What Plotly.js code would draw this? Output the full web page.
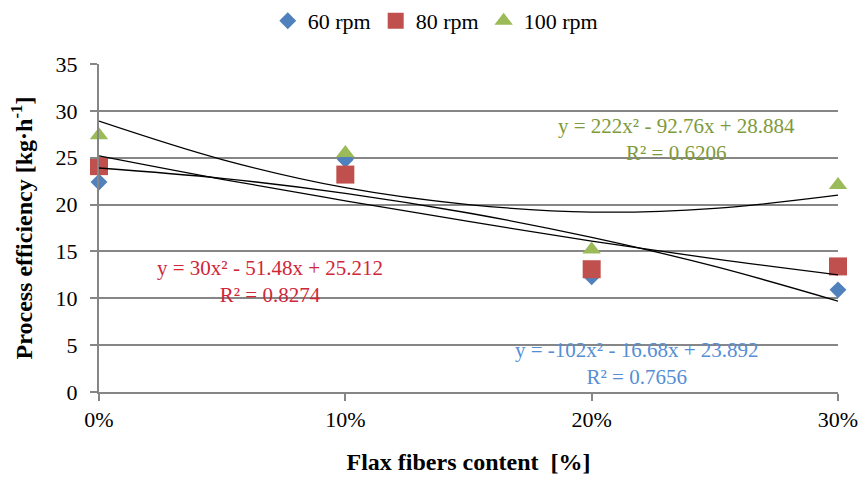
<!DOCTYPE html>
<html><head><meta charset="utf-8">
<script src="https://cdn.plot.ly/plotly-3.0.1.min.js"></script>
<style>html,body{margin:0;padding:0;background:#fff}#chart{width:862px;height:479px}</style>
</head><body><div id="chart"></div>
<script>
// Data
const xCats = [0, 0.1, 0.2, 0.3];
const xTickLabels = ['0%', '10%', '20%', '30%'];
const rpm60 = [22.4, 24.8, 12.3, 10.9];
const rpm80 = [24.1, 23.2, 13.1, 13.4];
const rpm100 = [27.4, 25.5, 15.2, 22.1];
// Trend line values
const trendX = [0, 0.05, 0.1, 0.15, 0.2, 0.25, 0.3];
const trend60 = [23.9, 22.8, 21.2, 19.1, 16.5, 13.4, 9.7];
const trend80 = [25.2, 22.7, 20.4, 18.2, 16.1, 14.2, 12.5];
const trend100 = [28.9, 24.8, 21.8, 20.0, 19.2, 19.6, 21.0];
const seriesNames = ['60 rpm', '80 rpm', '100 rpm'];
const eqTexts = ['y = -102x² - 16.68x + 23.892<br>R² = 0.7656',
                 'y = 30x² - 51.48x + 25.212<br>R² = 0.8274',
                 'y = 222x² - 92.76x + 28.884<br>R² = 0.6206'];

const FONT = '"Liberation Serif", "Times New Roman", serif';
const GRID = '#868686';

const traces = [
  {x: xCats, y: rpm60, name: seriesNames[0], type: 'scatter', mode: 'markers', cliponaxis: false,
   marker: {symbol: 'diamond', size: 13, color: '#4F81BD'}},
  {x: xCats, y: rpm80, name: seriesNames[1], type: 'scatter', mode: 'markers', cliponaxis: false,
   marker: {symbol: 'square', size: 18, color: '#C0504D'}},
  {x: xCats, y: rpm100, name: seriesNames[2], type: 'scatter', mode: 'markers', cliponaxis: false,
   marker: {symbol: 'triangle-up', size: 16, color: '#9BBB59'}},
  {x: trendX, y: trend60, type: 'scatter', mode: 'lines', showlegend: false, hoverinfo: 'skip',
   line: {color: '#000', width: 1.3, shape: 'spline'}},
  {x: trendX, y: trend80, type: 'scatter', mode: 'lines', showlegend: false, hoverinfo: 'skip',
   line: {color: '#000', width: 1.3, shape: 'spline'}},
  {x: trendX, y: trend100, type: 'scatter', mode: 'lines', showlegend: false, hoverinfo: 'skip',
   line: {color: '#000', width: 1.3, shape: 'spline'}}
];

const layout = {
  width: 862, height: 479,
  margin: {l: 99, r: 24, t: 64, b: 87},
  paper_bgcolor: '#fff', plot_bgcolor: '#fff',
  font: {family: FONT, size: 22, color: '#000'},
  showlegend: true,
  legend: {orientation: 'h', x: 0.455, xanchor: 'center', y: 1.0, yref: 'container', yanchor: 'top',
           font: {family: FONT, size: 22}, bgcolor: 'rgba(0,0,0,0)', itemwidth: 30, tracegroupgap: 0},
  xaxis: {range: [0, 0.3], tickvals: xCats, ticktext: xTickLabels, showgrid: false, zeroline: false,
          showline: true, linecolor: GRID, linewidth: 2, ticks: 'outside', ticklen: 7, tickwidth: 2,
          tickcolor: GRID, tickfont: {family: FONT, size: 22}, fixedrange: true,
          title: {text: '<b>Flax fibers content  [%]</b>', font: {family: FONT, size: 24}, standoff: 22}},
  yaxis: {range: [0, 35], dtick: 5, showgrid: true, gridcolor: GRID, gridwidth: 2, zeroline: false,
          showline: true, linecolor: GRID, linewidth: 2, ticks: 'outside', ticklen: 7, tickwidth: 2,
          tickcolor: GRID, tickfont: {family: FONT, size: 22}, ticklabelstandoff: 8, fixedrange: true,
          title: {text: '<b>Process efficiency [kg·h<sup>-1</sup>]</b>', font: {family: FONT, size: 24}, standoff: 16}},
  annotations: [
    {x: 0.218, y: 3.09, xref: 'x', yref: 'y', text: eqTexts[0], showarrow: false, align: 'center',
     font: {family: FONT, size: 21, color: '#558ED5'}},
    {x: 0.0694, y: 11.79, xref: 'x', yref: 'y', text: eqTexts[1], showarrow: false, align: 'center',
     font: {family: FONT, size: 21, color: '#D0263A'}},
    {x: 0.2346, y: 26.94, xref: 'x', yref: 'y', text: eqTexts[2], showarrow: false, align: 'center',
     font: {family: FONT, size: 21, color: '#7E9A3A'}}
  ]
};

Plotly.newPlot('chart', traces, layout, {staticPlot: true, displayModeBar: false});
</script></body></html>
